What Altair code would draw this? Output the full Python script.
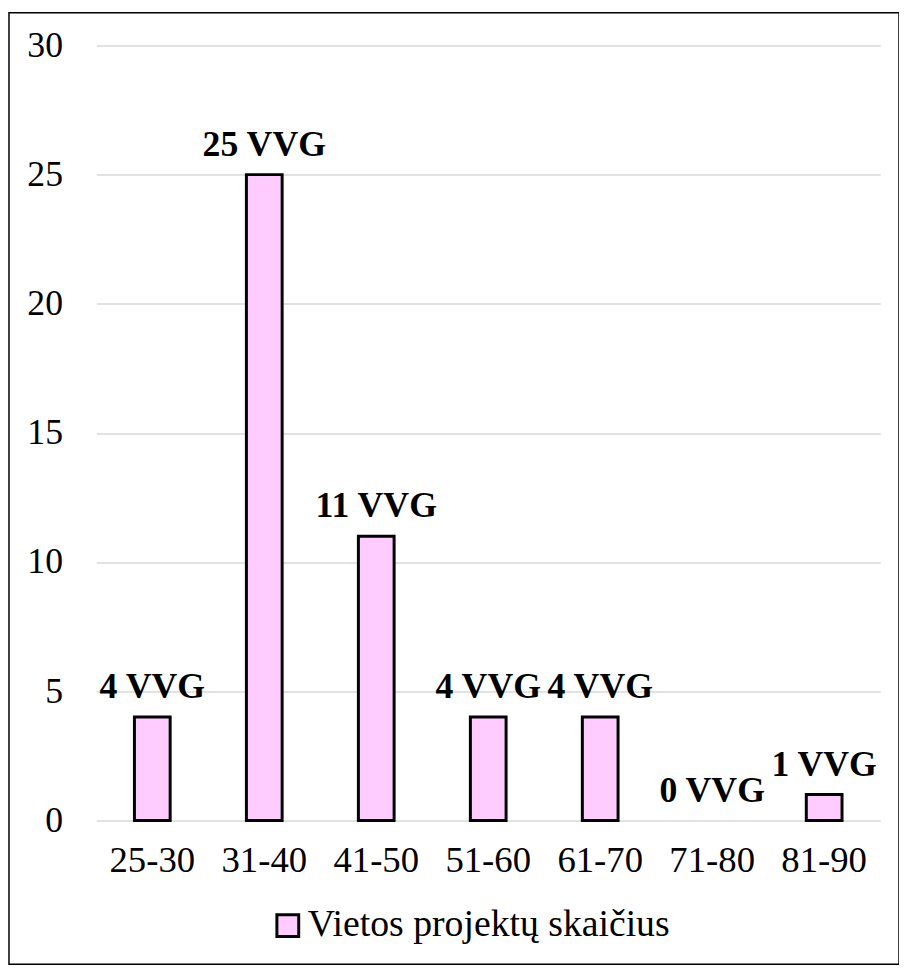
import altair as alt
import pandas as pd

categories = ["25-30", "31-40", "41-50", "51-60", "61-70", "71-80", "81-90"]
values = [4, 25, 11, 4, 4, 0, 1]
labels = [f"{v} VVG" for v in values]
series = "Vietos projektų skaičius"

df = pd.DataFrame({"cat": categories, "val": values, "lab": labels, "series": series})

FONT = "Liberation Serif"
W, H = 790, 781

x = alt.X("cat:N", sort=categories, title=None,
          axis=alt.Axis(labelAngle=0, labelFontSize=37, labelFont=FONT, labelColor="black",
                        ticks=False, domain=False, labelPadding=23, grid=False))
y = alt.Y("val:Q", title=None, scale=alt.Scale(domain=[0, 30], nice=False),
          axis=alt.Axis(values=[0, 5, 10, 15, 20, 25, 30], labelFontSize=36, labelFont=FONT,
                        labelColor="black", ticks=False, domain=False, labelPadding=34,
                        gridColor="#d9d9d9", gridWidth=1.5))

bars = alt.Chart(df).transform_filter("datum.val > 0").mark_bar(
    size=36, stroke="black", strokeWidth=3).encode(
    x=x, y=y,
    color=alt.Color("series:N", scale=alt.Scale(range=["#ffccff"]), title=None,
                    legend=alt.Legend(orient="none", legendX=174, legendY=868,
                                      symbolType="square", symbolSize=484,
                                      symbolStrokeColor="black", symbolStrokeWidth=3,
                                      labelFontSize=38, labelFont=FONT, labelColor="black",
                                      labelLimit=600, labelOffset=1)),
)

text = alt.Chart(df).mark_text(dy=-30, fontSize=36, fontWeight="bold", font=FONT,
                               color="black", baseline="middle").encode(
    x=alt.X("cat:N", sort=categories), y=alt.Y("val:Q"), text="lab:N")

border = alt.Chart(pd.DataFrame({"a": [0]})).mark_rect(
    fill=None, stroke="black", strokeWidth=1.5, clip=False).encode(
    x=alt.value(-88), x2=alt.value(809), y=alt.value(-33), y2=alt.value(926))

chart = alt.layer(bars, text, border).properties(
    width=W, height=H,
    background="white",
    autosize=alt.AutoSizeParams(type="none"),
    padding={"left": 89, "top": 34, "right": 19, "bottom": 145},
).configure_view(stroke=None)

chart.save("out.html", embed_options={"renderer": "svg", "actions": False})
